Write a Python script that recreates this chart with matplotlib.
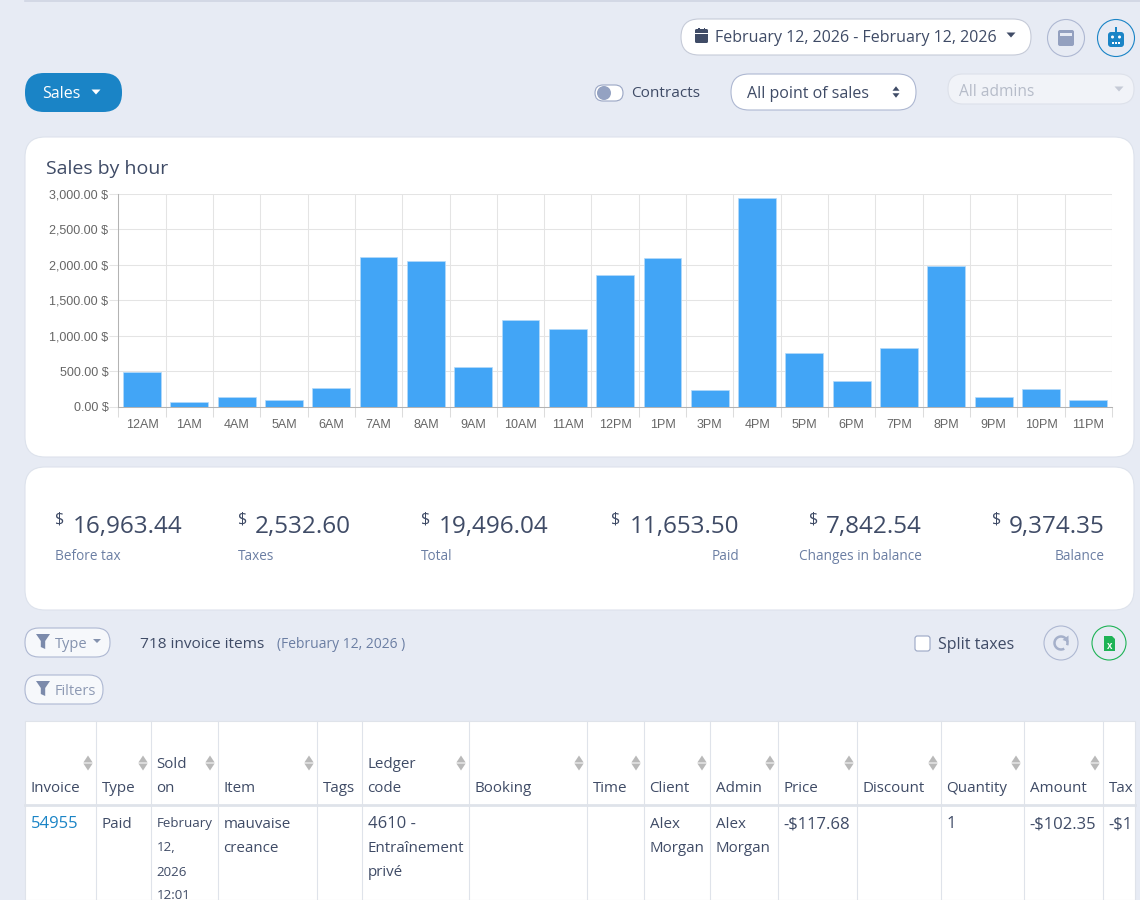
import matplotlib
matplotlib.use("Agg")
import matplotlib.pyplot as plt
from matplotlib.patches import FancyBboxPatch, Polygon, Circle, Rectangle, Arc
from matplotlib.ticker import FuncFormatter

hours = ["12AM","1AM","4AM","5AM","6AM","7AM","8AM","9AM","10AM","11AM","12PM","1PM",
         "3PM","4PM","5PM","6PM","7PM","8PM","9PM","10PM","11PM"]
sales = [485,66,141,94,259,2116,2055,560,1222,1095,1857,2097,235,2943,755,360,828,1985,135,250,95]
yticks = [0,500,1000,1500,2000,2500,3000]

stats = [("16,963.44","Before tax","l",55,183),("2,532.60","Taxes","l",238,351),
         ("19,496.04","Total","l",421,549),("11,653.50","Paid","r",611,739),
         ("7,842.54","Changes in balance","r",809,922),("9,374.35","Balance","r",992,1105)]
columns = ["Invoice","Type","Sold\non","Item","Tags","Ledger\ncode","Booking","Time","Client",
           "Admin","Price","Discount","Quantity","Amount","Tax"]
col_edges = [25,96,151,218,317,362,469,587,644,710,778,857,941,1024,1103,1135]
row = ["54955","Paid","February\n12,\n2026\n12:01","mauvaise\ncreance","","4610 -\nEntraînement\nprivé",
       "","","Alex\nMorgan","Alex\nMorgan","-$117.68","","1","-$102.35","-$1"]

UI = "Open Sans"
BG="#e7ebf4"; DARK="#3f4b66"; MUTED="#6b7ea3"; BLUE="#1a84c6"; BORDER="#aeb8d2"; BAR="#42a5f6"
TLINE="#dfe3ea"

fig = plt.figure(figsize=(11.4,9), dpi=100, facecolor=BG)
ov = fig.add_axes([0,0,1,1], zorder=1)
ov.set_xlim(0,1140); ov.set_ylim(900,0); ov.axis("off")

def rbox(x0,y0,x1,y1,r,fc="white",ec="none",lw=0.8,z=1):
    ov.add_patch(FancyBboxPatch((x0+r,y0+r),x1-x0-2*r,y1-y0-2*r,boxstyle=f"round,pad={r},rounding_size={r}",
                                fc=fc,ec=ec,lw=lw,zorder=z,mutation_aspect=1))
def t(x,y,s,size=11.2,color=DARK,ha="left",font=UI,z=5,**k):
    # y is the visual centre of the capitals; place the baseline from it
    return ov.text(x,y+0.355*size*100/72,s,fontsize=size,color=color,ha=ha,va="baseline",family=font,zorder=z,parse_math=False,**k)
def tri(cx,cy,w,h,color,up=False):
    d=-h if up else h
    ov.add_patch(Polygon([(cx-w/2,cy-d/2),(cx+w/2,cy-d/2),(cx,cy+d/2)],fc=color,ec="none",zorder=5))
def funnel(cx,cy,color):
    ov.add_patch(Polygon([(cx-7,cy-8),(cx+7,cy-8),(cx+2.2,cy-1),(cx+2.2,cy+7),(cx-2.2,cy+5),(cx-2.2,cy-1)],fc=color,ec="none",zorder=5))
def sort(cx,cy):
    tri(cx,cy-4,9.3,7,"#b9b9b9",up=True); tri(cx,cy+4,9.3,7,"#b9b9b9")

# top rule
ov.plot([25,1140],[1,1],color="#cfd5e3",lw=1.2,zorder=1)

# date picker row
rbox(681,19,1031,55,18,ec="#c6cbd8")
rbox(695,29,708,43,1.5,fc=DARK,z=5)
ov.add_patch(Rectangle((695,33),13,1,fc="white",ec="none",zorder=6))
ov.add_patch(Rectangle((698,27.5),1.8,3,fc=DARK,ec="none",zorder=5))
ov.add_patch(Rectangle((703.5,27.5),1.8,3,fc=DARK,ec="none",zorder=5))
t(715,36,"February 12, 2026 - February 12, 2026",11.5,DARK)
tri(1011,35,9,5,DARK)
ov.add_patch(Circle((1066,38),18.5,fc=BG,ec=BORDER,lw=0.8,zorder=3))
rbox(1058,30,1074,46,2,fc="#93a0bf",z=5)
ov.add_patch(Rectangle((1060,33),12,3,fc=BG,ec="none",zorder=6))
ov.add_patch(Circle((1116,38),18.5,fc=BG,ec=BLUE,lw=0.8,zorder=3))
rbox(1108,32,1124,47,3,fc=BLUE,z=5)
ov.add_patch(Rectangle((1115,27),2,5,fc=BLUE,ec="none",zorder=5))
for dx in (1112,1115,1118):
    ov.add_patch(Rectangle((dx,42),2,1.5,fc="white",ec="none",zorder=6))
ov.add_patch(Circle((1112.5,37),1.5,fc="white",ec="none",zorder=6))
ov.add_patch(Circle((1119.5,37),1.5,fc="white",ec="none",zorder=6))

# second row
rbox(25,73,122,112,19,fc=BLUE)
t(42,92,"Sales",11.5,"white")
tri(96,92,9,5,"white")
rbox(595,85,623,101,8,fc="white",ec="#9aa6c4")
ov.add_patch(Circle((604,93),7,fc="#94a2c2",ec="none",zorder=5))
t(631,92,"Contracts",11.1,DARK)
rbox(731,74,916,110,18,ec=BORDER)
t(747,92,"All point of sales",11.5,DARK)
tri(896,88.5,7,4.5,DARK,up=True); tri(896,95.5,7,4.5,DARK)
rbox(948,74,1134,104,15,fc="#f1f3f8",ec="#dde1ea")
t(959,90.5,"All admins",11.2,"#b6bcc9")
tri(1119,89,9,5,"#c5cad6")

# chart card
rbox(25,137,1134,457,20,ec="#dde2ec")
t(46,167,"Sales by hour",14.0,DARK)

ax = fig.add_axes([118.3/1140,1-406.7/900,(1112-118.3)/1140,(406.7-194)/900],zorder=2)
ax.set_facecolor("none")
ax.bar(range(len(hours)),sales,width=0.8,color=BAR,edgecolor="#b5daf9",linewidth=0.5,zorder=3)
ax.set_xlim(-0.5,len(hours)-0.5); ax.set_ylim(0,3000)
ax.set_yticks(yticks)
ax.yaxis.set_major_formatter(FuncFormatter(lambda v,_:f"{v:,.2f} $"))
ax.set_xticks(range(len(hours)),hours)
ax.set_xticks([i-0.5 for i in range(len(hours)+1)],minor=True)
ax.grid(True,which="major",axis="y",color="#e4e4e4",lw=0.75,zorder=0)
ax.grid(True,which="minor",axis="x",color="#e4e4e4",lw=0.75,zorder=0)
ax.tick_params(axis="x",which="major",length=0,pad=9,labelsize=9,labelcolor="#666666")
ax.tick_params(axis="x",which="minor",length=7,color="#dcdcdc",width=0.75)
ax.tick_params(axis="y",length=6.5,color="#e4e4e4",width=0.75,pad=0.5,labelsize=9,labelcolor="#666666")
for lab in ax.get_xticklabels()+ax.get_yticklabels():
    lab.set_family("Liberation Sans"); lab.set_parse_math(False)
for s in ("top","right"): ax.spines[s].set_visible(False)
ax.spines["left"].set_color("#b3b3b3"); ax.spines["bottom"].set_color("#b3b3b3")
ax.spines["left"].set_linewidth(0.75); ax.spines["bottom"].set_linewidth(0.75)

# stats card
rbox(25,467,1134,610,20,ec="#dde2ec")
for val,lab,al,x0,x1 in stats:
    t(x0,518,"$",11.5,DARK)
    t(x1,524,val,17.5,DARK,ha="right")
    t(x0 if al=="l" else x1,555,lab,9.8,MUTED,ha="left" if al=="l" else "right")

# filters row
rbox(25,628,110,657,14,fc="#f6f8fb",ec=BORDER)
funnel(43,642,"#7b8aab")
t(55,642.5,"Type",10.5,"#8492ae")
tri(97,641,8,4,"#8492ae")
t(139.5,643,"718 invoice items",11.1,DARK)
t(277,643.5,"(February 12, 2026 )",10,MUTED)
rbox(25,675,103,704,14,fc="#f6f8fb",ec=BORDER)
funnel(43,689,"#7b8aab")
t(55,689.5,"Filters",10.5,"#8d99b3")
rbox(915,636,930,651,2.5,fc="white",ec="#9aa6c4")
t(938,643,"Split taxes",11.5,DARK)
ov.add_patch(Circle((1061,643),17,fc=BG,ec=BORDER,lw=0.8,zorder=3))
ov.add_patch(Arc((1061,643),13,13,theta1=-300,theta2=20,ec="#a5b0ca",lw=1.8,zorder=5))
ov.add_patch(Polygon([(1068.5,635.5),(1068.5,642),(1062.5,640)],fc="#a5b0ca",ec="none",zorder=5))
ov.add_patch(Circle((1109,643),17,fc=BG,ec="#1fb356",lw=0.8,zorder=3))
ov.add_patch(Polygon([(1104,636),(1112,636),(1115,639),(1115,651),(1104,651)],fc="#1fb356",ec="none",zorder=5))
t(1109.5,646,"x",7,"white",ha="center",font="Liberation Sans",weight="bold",z=6)

# table
ov.add_patch(Rectangle((25,721),1110,179,fc="white",ec=TLINE,lw=0.8,zorder=1))
ov.plot([25,1135],[805,805],color=TLINE,lw=2.0,zorder=2)
for x in col_edges[1:-1]:
    ov.plot([x,x],[721,900],color=TLINE,lw=0.8,zorder=2)
for i,name in enumerate(columns):
    l,r = col_edges[i],col_edges[i+1]
    parts = name.split("\n")
    if len(parts)==2:
        t(l+5.5,763,parts[0],10.9); t(l+5.5,787,parts[1],10.9)
    else:
        t(l+5.5,787,parts[0],10.9)
    if name not in("Tags","Tax"):
        sort(r-8,763)
ys=[822.5,846.5,871,894.5]
for i,cell in enumerate(row):
    l = col_edges[i]
    for j,part in enumerate(cell.split("\n")):
        color = BLUE if i==0 else DARK
        if i==2: size = 9.6
        elif any(c.isdigit() for c in part): size = 12
        else: size = 10.9
        t(l+5.5,ys[j],part,size,color)
fig.savefig("out.png",dpi=100,facecolor=BG)
